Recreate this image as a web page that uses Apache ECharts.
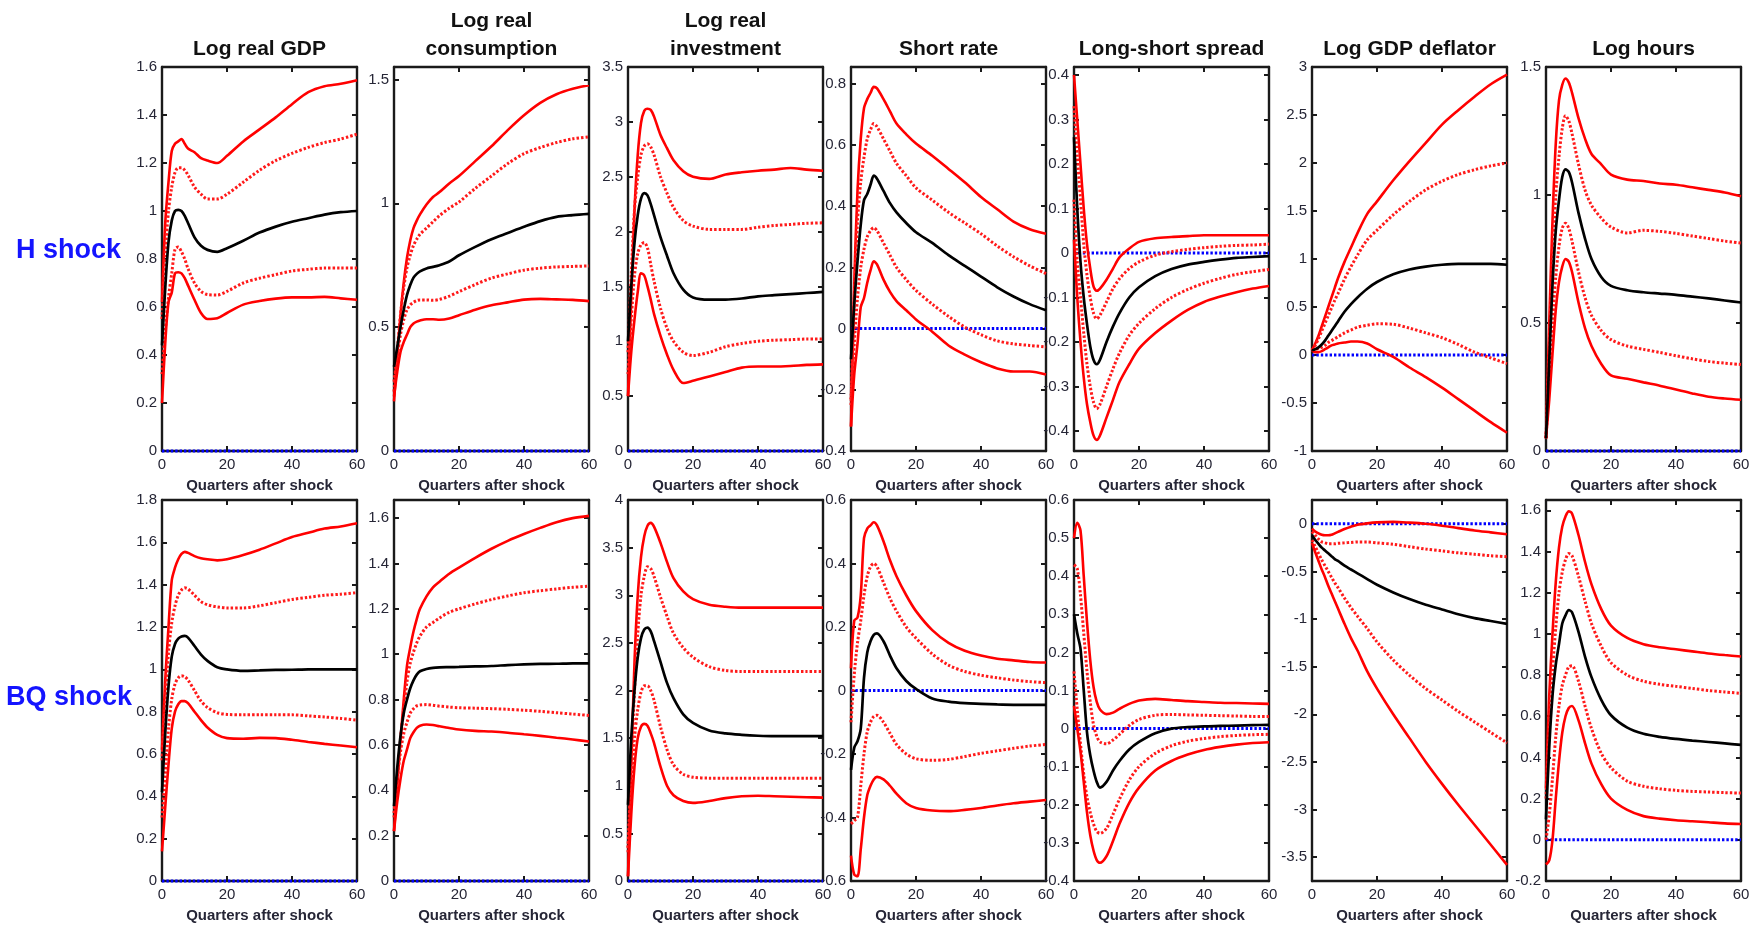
<!DOCTYPE html>
<html>
<head>
<meta charset="utf-8">
<script src="https://cdn.jsdelivr.net/npm/echarts@6/dist/echarts.min.js"></script>
<style>
html,body{margin:0;padding:0;background:#fff;}
#main{width:1753px;height:927px;}
</style>
</head>
<body>
<div id="main"></div>
<script>
// ---------------- DATA ----------------
const Q = [0,1,2,3,4,5,6,7,8,10,12,14,17,20,25,30,35,40,45,50,55,60];
const xTicks = [0,20,40,60];

// H shock: Log real GDP
const H_gdp_hi   = [0.62,0.95,1.12,1.25,1.28,1.29,1.30,1.28,1.26,1.245,1.22,1.21,1.20,1.23,1.29,1.34,1.39,1.445,1.495,1.52,1.53,1.545];
const H_gdp_hiIn = [0.55,0.82,1.0,1.1,1.16,1.18,1.18,1.17,1.15,1.10,1.07,1.05,1.05,1.07,1.12,1.17,1.21,1.24,1.265,1.285,1.30,1.32];
const H_gdp_med  = [0.44,0.68,0.87,0.96,1.0,1.005,1.0,0.98,0.95,0.89,0.855,0.838,0.83,0.845,0.876,0.91,0.935,0.955,0.97,0.985,0.995,1.0];
const H_gdp_loIn = [0.32,0.5,0.64,0.74,0.84,0.85,0.83,0.80,0.76,0.70,0.665,0.652,0.65,0.665,0.70,0.72,0.735,0.75,0.757,0.762,0.762,0.762];
const H_gdp_lo   = [0.2,0.45,0.62,0.66,0.74,0.745,0.74,0.72,0.69,0.63,0.575,0.55,0.553,0.575,0.61,0.625,0.635,0.64,0.64,0.642,0.636,0.63];
// BQ shock: Log real GDP
const B_gdp_hi   = [0.62,0.95,1.2,1.42,1.48,1.52,1.545,1.555,1.55,1.535,1.525,1.52,1.515,1.52,1.54,1.565,1.595,1.625,1.645,1.665,1.675,1.69];
const B_gdp_hiIn = [0.57,0.85,1.08,1.22,1.3,1.35,1.375,1.385,1.38,1.35,1.32,1.305,1.295,1.29,1.29,1.3,1.315,1.33,1.34,1.35,1.355,1.362];
const B_gdp_med  = [0.42,0.7,0.92,1.06,1.12,1.145,1.155,1.158,1.15,1.11,1.07,1.04,1.01,1.0,0.993,0.995,0.997,0.998,1.0,1.0,1.0,1.0];
const B_gdp_loIn = [0.3,0.5,0.72,0.86,0.93,0.96,0.97,0.965,0.95,0.9,0.85,0.82,0.795,0.787,0.785,0.785,0.785,0.785,0.78,0.775,0.768,0.76];
const B_gdp_lo   = [0.14,0.35,0.55,0.72,0.8,0.835,0.85,0.85,0.84,0.8,0.76,0.725,0.69,0.675,0.672,0.676,0.675,0.667,0.657,0.648,0.64,0.632];

// Log real consumption
const H_cons_hi   = [0.2,0.38,0.55,0.68,0.78,0.85,0.9,0.93,0.955,0.995,1.025,1.045,1.08,1.11,1.17,1.23,1.295,1.355,1.405,1.44,1.462,1.476];
const H_cons_hiIn = [0.24,0.4,0.55,0.66,0.74,0.79,0.83,0.855,0.875,0.9,0.925,0.95,0.98,1.005,1.06,1.11,1.16,1.2,1.225,1.245,1.26,1.268];
const H_cons_med  = [0.34,0.42,0.5,0.57,0.63,0.67,0.7,0.715,0.725,0.737,0.743,0.75,0.765,0.79,0.824,0.855,0.88,0.905,0.928,0.945,0.952,0.957];
const H_cons_loIn = [0.28,0.38,0.47,0.53,0.57,0.59,0.6,0.607,0.61,0.61,0.608,0.612,0.625,0.643,0.672,0.698,0.715,0.73,0.738,0.743,0.745,0.747];
const H_cons_lo   = [0.22,0.32,0.4,0.44,0.47,0.5,0.515,0.522,0.527,0.532,0.532,0.53,0.535,0.548,0.57,0.588,0.6,0.611,0.614,0.612,0.61,0.605];
const B_cons_hi   = [0.22,0.42,0.62,0.8,0.95,1.03,1.1,1.155,1.2,1.255,1.295,1.32,1.355,1.382,1.425,1.465,1.5,1.53,1.557,1.582,1.6,1.61];
const B_cons_hiIn = [0.28,0.45,0.62,0.76,0.88,0.96,1.01,1.05,1.08,1.12,1.14,1.16,1.185,1.2,1.222,1.241,1.257,1.271,1.28,1.288,1.295,1.3];
const B_cons_med  = [0.33,0.5,0.64,0.74,0.8,0.85,0.885,0.91,0.925,0.935,0.94,0.942,0.943,0.944,0.946,0.948,0.952,0.955,0.957,0.958,0.96,0.96];
const B_cons_loIn = [0.3,0.45,0.57,0.65,0.7,0.74,0.76,0.772,0.776,0.778,0.775,0.771,0.767,0.764,0.762,0.76,0.757,0.753,0.748,0.742,0.736,0.73];
const B_cons_lo   = [0.22,0.35,0.45,0.53,0.58,0.63,0.656,0.675,0.685,0.69,0.688,0.682,0.675,0.668,0.662,0.659,0.654,0.647,0.64,0.632,0.624,0.615];

// Log real investment
const H_inv_hi   = [0.5,1.4,2.2,2.7,2.99,3.1,3.12,3.11,3.05,2.88,2.76,2.65,2.55,2.5,2.48,2.52,2.54,2.555,2.565,2.58,2.565,2.555];
const H_inv_hiIn = [0.9,1.6,2.2,2.5,2.7,2.78,2.8,2.77,2.7,2.5,2.35,2.22,2.1,2.05,2.02,2.02,2.02,2.04,2.055,2.065,2.075,2.08];
const H_inv_med  = [1.0,1.5,1.9,2.15,2.3,2.35,2.33,2.25,2.15,1.95,1.78,1.62,1.47,1.4,1.38,1.38,1.39,1.41,1.42,1.43,1.44,1.45];
const H_inv_loIn = [0.7,1.2,1.6,1.8,1.88,1.9,1.85,1.7,1.55,1.3,1.12,1.0,0.9,0.87,0.9,0.95,0.98,1.0,1.01,1.015,1.02,1.02];
const H_inv_lo   = [0.5,0.9,1.2,1.45,1.62,1.6,1.5,1.38,1.25,1.05,0.88,0.74,0.62,0.64,0.68,0.72,0.76,0.77,0.77,0.775,0.785,0.79];
const B_inv_hi   = [0.05,1.2,2.3,3.0,3.4,3.62,3.73,3.76,3.72,3.55,3.35,3.18,3.04,2.96,2.9,2.88,2.87,2.87,2.87,2.87,2.87,2.87];
const B_inv_hiIn = [0.3,1.2,2.0,2.6,3.0,3.2,3.3,3.28,3.2,2.98,2.78,2.6,2.45,2.35,2.25,2.21,2.2,2.2,2.2,2.2,2.2,2.2];
const B_inv_med  = [0.8,1.5,2.0,2.35,2.55,2.64,2.66,2.62,2.52,2.3,2.08,1.92,1.75,1.66,1.58,1.55,1.535,1.525,1.52,1.52,1.52,1.52];
const B_inv_loIn = [0.35,1.0,1.5,1.8,1.98,2.05,2.05,2.0,1.9,1.62,1.38,1.22,1.12,1.09,1.08,1.08,1.08,1.08,1.08,1.08,1.08,1.08];
const B_inv_lo   = [0.05,0.7,1.2,1.5,1.62,1.65,1.63,1.55,1.45,1.2,1.0,0.9,0.84,0.82,0.84,0.87,0.89,0.895,0.89,0.885,0.88,0.875];

// Short rate
const H_sr_hi   = [-0.32,0.15,0.45,0.62,0.72,0.75,0.77,0.79,0.785,0.75,0.71,0.67,0.635,0.605,0.565,0.522,0.478,0.43,0.39,0.35,0.325,0.31];
const H_sr_hiIn = [-0.25,0.1,0.35,0.48,0.56,0.62,0.65,0.67,0.66,0.62,0.58,0.54,0.5,0.46,0.42,0.38,0.345,0.31,0.27,0.235,0.205,0.18];
const H_sr_med  = [-0.1,0.08,0.22,0.34,0.42,0.44,0.47,0.5,0.49,0.45,0.41,0.38,0.345,0.315,0.28,0.24,0.205,0.17,0.135,0.105,0.08,0.06];
const H_sr_loIn = [-0.23,-0.05,0.1,0.2,0.26,0.3,0.32,0.33,0.32,0.28,0.24,0.2,0.16,0.125,0.08,0.04,0.005,-0.02,-0.04,-0.05,-0.055,-0.06];
const H_sr_lo   = [-0.32,-0.15,-0.05,0.07,0.1,0.15,0.19,0.22,0.21,0.16,0.12,0.09,0.06,0.03,-0.01,-0.055,-0.085,-0.11,-0.13,-0.14,-0.14,-0.15];
const B_sr_hi   = [0.07,0.22,0.23,0.3,0.48,0.51,0.52,0.53,0.52,0.47,0.41,0.36,0.3,0.25,0.19,0.15,0.125,0.11,0.1,0.095,0.09,0.088];
const B_sr_hiIn = [-0.1,0.05,0.15,0.22,0.3,0.36,0.39,0.4,0.39,0.34,0.29,0.25,0.2,0.165,0.115,0.08,0.06,0.048,0.04,0.033,0.028,0.025];
const B_sr_med  = [-0.25,-0.18,-0.16,-0.12,0.04,0.12,0.155,0.175,0.18,0.155,0.11,0.07,0.03,0.005,-0.025,-0.035,-0.04,-0.042,-0.044,-0.045,-0.045,-0.045];
const B_sr_loIn = [-0.42,-0.41,-0.4,-0.3,-0.2,-0.13,-0.1,-0.082,-0.078,-0.1,-0.135,-0.17,-0.2,-0.215,-0.22,-0.217,-0.208,-0.198,-0.19,-0.182,-0.175,-0.17];
const B_sr_lo   = [-0.52,-0.58,-0.585,-0.5,-0.4,-0.33,-0.3,-0.28,-0.272,-0.28,-0.3,-0.325,-0.355,-0.37,-0.378,-0.38,-0.376,-0.37,-0.362,-0.355,-0.35,-0.345];

// Long-short spread
const H_sp_hi   = [0.4,0.3,0.2,0.1,0.02,-0.035,-0.075,-0.085,-0.08,-0.06,-0.035,-0.01,0.01,0.025,0.033,0.036,0.038,0.04,0.04,0.04,0.04,0.04];
const H_sp_hiIn = [0.33,0.22,0.12,0.02,-0.05,-0.1,-0.135,-0.148,-0.14,-0.11,-0.08,-0.058,-0.035,-0.02,-0.005,0.003,0.008,0.012,0.015,0.017,0.018,0.02];
const H_sp_med  = [0.26,0.1,-0.02,-0.1,-0.16,-0.21,-0.24,-0.25,-0.24,-0.2,-0.165,-0.135,-0.1,-0.077,-0.052,-0.036,-0.026,-0.02,-0.015,-0.011,-0.009,-0.007];
const H_sp_loIn = [0.12,-0.02,-0.1,-0.18,-0.25,-0.3,-0.335,-0.35,-0.34,-0.3,-0.26,-0.225,-0.185,-0.158,-0.125,-0.1,-0.082,-0.068,-0.057,-0.048,-0.042,-0.037];
const H_sp_lo   = [0.03,-0.1,-0.2,-0.28,-0.34,-0.38,-0.41,-0.42,-0.41,-0.37,-0.33,-0.29,-0.25,-0.215,-0.18,-0.152,-0.128,-0.11,-0.098,-0.088,-0.08,-0.074];
const B_sp_hi   = [0.5,0.54,0.52,0.4,0.28,0.18,0.11,0.07,0.05,0.038,0.042,0.052,0.065,0.074,0.078,0.075,0.072,0.07,0.068,0.067,0.066,0.065];
const B_sp_hiIn = [0.43,0.42,0.35,0.25,0.15,0.07,0.01,-0.02,-0.035,-0.04,-0.03,-0.015,0.008,0.024,0.035,0.037,0.036,0.035,0.034,0.033,0.032,0.032];
const B_sp_med  = [0.3,0.25,0.21,0.1,-0.01,-0.07,-0.11,-0.14,-0.155,-0.14,-0.11,-0.085,-0.055,-0.035,-0.012,0.0,0.004,0.006,0.007,0.008,0.009,0.01];
const B_sp_loIn = [0.15,0.05,-0.04,-0.12,-0.18,-0.22,-0.25,-0.27,-0.275,-0.262,-0.225,-0.185,-0.135,-0.1,-0.065,-0.045,-0.033,-0.026,-0.021,-0.018,-0.016,-0.015];
const B_sp_lo   = [0.06,0.0,-0.06,-0.14,-0.22,-0.28,-0.32,-0.345,-0.352,-0.335,-0.295,-0.25,-0.195,-0.155,-0.11,-0.085,-0.068,-0.056,-0.048,-0.042,-0.038,-0.036];

// Log GDP deflator
const H_def_hi   = [0.05,0.12,0.2,0.3,0.4,0.5,0.6,0.7,0.8,0.97,1.12,1.27,1.47,1.6,1.82,2.02,2.21,2.4,2.55,2.69,2.82,2.92];
const H_def_hiIn = [0.05,0.1,0.17,0.25,0.33,0.41,0.49,0.57,0.64,0.79,0.92,1.04,1.2,1.3,1.46,1.6,1.72,1.81,1.88,1.93,1.97,2.0];
const H_def_med  = [0.05,0.06,0.08,0.11,0.15,0.2,0.25,0.3,0.35,0.45,0.53,0.6,0.69,0.76,0.84,0.89,0.92,0.94,0.95,0.95,0.95,0.94];
const H_def_loIn = [0.05,0.06,0.07,0.08,0.1,0.13,0.15,0.17,0.19,0.23,0.26,0.29,0.31,0.325,0.32,0.28,0.23,0.18,0.11,0.03,-0.03,-0.09];
const H_def_lo   = [0.05,0.03,0.03,0.04,0.06,0.08,0.1,0.11,0.12,0.13,0.14,0.14,0.12,0.06,-0.02,-0.13,-0.23,-0.34,-0.46,-0.58,-0.7,-0.81];
const B_def_hi   = [-0.05,-0.08,-0.1,-0.115,-0.12,-0.12,-0.115,-0.1,-0.085,-0.055,-0.03,-0.01,0.005,0.015,0.02,0.012,0.0,-0.02,-0.045,-0.07,-0.09,-0.11];
const B_def_hiIn = [-0.08,-0.12,-0.16,-0.19,-0.2,-0.21,-0.21,-0.21,-0.205,-0.2,-0.195,-0.19,-0.19,-0.2,-0.215,-0.24,-0.265,-0.285,-0.305,-0.32,-0.335,-0.345];
const B_def_med  = [-0.12,-0.17,-0.21,-0.25,-0.28,-0.31,-0.34,-0.37,-0.39,-0.44,-0.48,-0.52,-0.58,-0.64,-0.72,-0.79,-0.85,-0.9,-0.95,-0.99,-1.02,-1.05];
const B_def_loIn = [-0.17,-0.24,-0.31,-0.38,-0.44,-0.5,-0.56,-0.62,-0.67,-0.78,-0.88,-0.97,-1.1,-1.24,-1.43,-1.59,-1.73,-1.85,-1.97,-2.08,-2.19,-2.3];
const B_def_lo   = [-0.2,-0.3,-0.39,-0.48,-0.56,-0.65,-0.73,-0.81,-0.89,-1.05,-1.2,-1.33,-1.55,-1.73,-2.0,-2.25,-2.5,-2.73,-2.95,-3.16,-3.37,-3.58];

// Log hours
const H_hrs_hi   = [0.05,0.5,0.9,1.2,1.37,1.43,1.455,1.44,1.4,1.3,1.22,1.16,1.12,1.08,1.06,1.055,1.045,1.04,1.03,1.02,1.01,0.995];
const H_hrs_hiIn = [0.05,0.4,0.75,1.0,1.15,1.26,1.31,1.29,1.24,1.12,1.02,0.96,0.91,0.875,0.852,0.862,0.858,0.85,0.84,0.83,0.82,0.812];
const H_hrs_med  = [0.05,0.35,0.65,0.86,0.98,1.07,1.1,1.09,1.05,0.93,0.83,0.75,0.68,0.645,0.628,0.62,0.615,0.61,0.603,0.596,0.588,0.58];
const H_hrs_loIn = [0.05,0.28,0.5,0.68,0.8,0.87,0.89,0.87,0.82,0.7,0.6,0.53,0.47,0.435,0.41,0.397,0.385,0.372,0.36,0.35,0.343,0.338];
const H_hrs_lo   = [0.05,0.2,0.38,0.55,0.66,0.72,0.75,0.74,0.7,0.58,0.48,0.41,0.34,0.295,0.282,0.268,0.255,0.24,0.225,0.212,0.205,0.2];
const B_hrs_hi   = [0.25,0.7,1.0,1.25,1.42,1.52,1.57,1.595,1.585,1.48,1.35,1.24,1.12,1.04,0.98,0.95,0.935,0.925,0.915,0.905,0.897,0.89];
const B_hrs_hiIn = [0.2,0.55,0.82,1.03,1.2,1.3,1.36,1.39,1.38,1.28,1.16,1.05,0.94,0.86,0.8,0.77,0.755,0.745,0.735,0.725,0.718,0.711];
const B_hrs_med  = [0.1,0.45,0.7,0.85,0.95,1.05,1.09,1.115,1.105,1.01,0.89,0.79,0.68,0.605,0.545,0.515,0.5,0.49,0.482,0.475,0.468,0.461];
const B_hrs_loIn = [0.0,0.12,0.3,0.5,0.65,0.75,0.8,0.84,0.845,0.77,0.65,0.54,0.42,0.35,0.285,0.26,0.248,0.24,0.235,0.232,0.229,0.227];
const B_hrs_lo   = [-0.12,-0.1,0.0,0.2,0.38,0.52,0.6,0.64,0.65,0.58,0.47,0.37,0.27,0.2,0.145,0.115,0.103,0.095,0.09,0.085,0.08,0.077];

// zero reference line
const zeroLine = [[0,0],[60,0]];

// Tick labels (y) per panel
const T_H_gdp  = [0,0.2,0.4,0.6,0.8,1,1.2,1.4,1.6];
const T_H_cons = [0,0.5,1,1.5];
const T_H_inv  = [0,0.5,1,1.5,2,2.5,3,3.5];
const T_H_sr   = [-0.4,-0.2,0,0.2,0.4,0.6,0.8];
const T_H_sp   = [-0.4,-0.3,-0.2,-0.1,0,0.1,0.2,0.3,0.4];
const T_H_def  = [-1,-0.5,0,0.5,1,1.5,2,2.5,3];
const T_H_hrs  = [0,0.5,1,1.5];
const T_B_gdp  = [0,0.2,0.4,0.6,0.8,1,1.2,1.4,1.6,1.8];
const T_B_cons = [0,0.2,0.4,0.6,0.8,1,1.2,1.4,1.6];
const T_B_inv  = [0,0.5,1,1.5,2,2.5,3,3.5,4];
const T_B_sr   = [-0.6,-0.4,-0.2,0,0.2,0.4,0.6];
const T_B_sp   = [-0.4,-0.3,-0.2,-0.1,0,0.1,0.2,0.3,0.4,0.5,0.6];
const T_B_def  = [-3.5,-3,-2.5,-2,-1.5,-1,-0.5,0];
const T_B_hrs  = [-0.2,0,0.2,0.4,0.6,0.8,1,1.2,1.4,1.6];

const titles = [["Log real GDP"],["Log real","consumption"],["Log real","investment"],["Short rate"],["Long-short spread"],["Log GDP deflator"],["Log hours"]];
const rowLabels = ["H shock","BQ shock"];

// ---------------- LAYOUT ----------------
const lefts = [162,394,628,851,1074,1312,1546];
const PW = 195;
const rowsGeo = [{top:67,h:384},{top:500,h:381}];

const panels = [
  {r:0,c:0,min:0,max:1.6,ticks:T_H_gdp,lines:[H_gdp_hi,H_gdp_hiIn,H_gdp_med,H_gdp_loIn,H_gdp_lo]},
  {r:0,c:1,min:0,max:1.55,ticks:T_H_cons,lines:[H_cons_hi,H_cons_hiIn,H_cons_med,H_cons_loIn,H_cons_lo]},
  {r:0,c:2,min:0,max:3.5,ticks:T_H_inv,lines:[H_inv_hi,H_inv_hiIn,H_inv_med,H_inv_loIn,H_inv_lo]},
  {r:0,c:3,min:-0.4,max:0.855,ticks:T_H_sr,lines:[H_sr_hi,H_sr_hiIn,H_sr_med,H_sr_loIn,H_sr_lo]},
  {r:0,c:4,min:-0.445,max:0.418,ticks:T_H_sp,lines:[H_sp_hi,H_sp_hiIn,H_sp_med,H_sp_loIn,H_sp_lo]},
  {r:0,c:5,min:-1,max:3,ticks:T_H_def,lines:[H_def_hi,H_def_hiIn,H_def_med,H_def_loIn,H_def_lo]},
  {r:0,c:6,min:0,max:1.5,ticks:T_H_hrs,lines:[H_hrs_hi,H_hrs_hiIn,H_hrs_med,H_hrs_loIn,H_hrs_lo]},
  {r:1,c:0,min:0,max:1.8,ticks:T_B_gdp,lines:[B_gdp_hi,B_gdp_hiIn,B_gdp_med,B_gdp_loIn,B_gdp_lo]},
  {r:1,c:1,min:0,max:1.68,ticks:T_B_cons,lines:[B_cons_hi,B_cons_hiIn,B_cons_med,B_cons_loIn,B_cons_lo]},
  {r:1,c:2,min:0,max:4,ticks:T_B_inv,lines:[B_inv_hi,B_inv_hiIn,B_inv_med,B_inv_loIn,B_inv_lo]},
  {r:1,c:3,min:-0.6,max:0.6,ticks:T_B_sr,lines:[B_sr_hi,B_sr_hiIn,B_sr_med,B_sr_loIn,B_sr_lo]},
  {r:1,c:4,min:-0.4,max:0.6,ticks:T_B_sp,lines:[B_sp_hi,B_sp_hiIn,B_sp_med,B_sp_loIn,B_sp_lo]},
  {r:1,c:5,min:-3.75,max:0.25,ticks:T_B_def,lines:[B_def_hi,B_def_hiIn,B_def_med,B_def_loIn,B_def_lo]},
  {r:1,c:6,min:-0.2,max:1.65,ticks:T_B_hrs,lines:[B_hrs_hi,B_hrs_hiIn,B_hrs_med,B_hrs_loIn,B_hrs_lo]}
];

const FONT = "'Liberation Sans', Arial, Helvetica, sans-serif";
const AX = '#1a1a1a';
const LBL = '#262636';
const lineStyles = [
  {color:'#ff0000', width:2.6, type:'solid'},
  {color:'#ff1a1a', width:3, type:[2.4,2]},
  {color:'#000000', width:2.7, type:'solid'},
  {color:'#ff1a1a', width:3, type:[2.4,2]},
  {color:'#ff0000', width:2.6, type:'solid'}
];
const fmt = v => String(Math.round(v*100)/100);

const grid = [], xAxis = [], yAxis = [], series = [];
panels.forEach((p, i) => {
  const g = rowsGeo[p.r];
  grid.push({left: lefts[p.c], top: g.top, width: PW, height: g.h, containLabel: false, show: false});
  const baseLine = {show:true, onZero:false, lineStyle:{color:AX, width:2.4}};
  const tickX = {show:true, inside:true, length:5, customValues:xTicks, lineStyle:{color:AX, width:2}};
  const tickY = {show:true, inside:true, length:5, customValues:p.ticks, lineStyle:{color:AX, width:2}};
  xAxis.push({
    gridIndex:i, type:'value', min:0, max:60, position:'bottom',
    axisLine:baseLine, axisTick:tickX,
    axisLabel:{customValues:xTicks, margin:6, fontSize:15, color:LBL, fontFamily:FONT, formatter:fmt},
    splitLine:{show:false},
    name:'Quarters after shock', nameLocation:'middle', nameGap:27,
    nameTextStyle:{fontSize:15, fontWeight:'bold', color:LBL, fontFamily:FONT}
  });
  xAxis.push({
    gridIndex:i, type:'value', min:0, max:60, position:'top',
    axisLine:baseLine, axisTick:tickX, axisLabel:{show:false}, splitLine:{show:false}
  });
  yAxis.push({
    gridIndex:i, type:'value', min:p.min, max:p.max, position:'left',
    axisLine:baseLine, axisTick:tickY,
    axisLabel:{customValues:p.ticks, margin:5, fontSize:15, color:LBL, fontFamily:FONT, formatter:fmt},
    splitLine:{show:false}
  });
  yAxis.push({
    gridIndex:i, type:'value', min:p.min, max:p.max, position:'right',
    axisLine:baseLine, axisTick:tickY, axisLabel:{show:false}, splitLine:{show:false}
  });
  series.push({
    type:'line', xAxisIndex:2*i, yAxisIndex:2*i, data:zeroLine, symbol:'none',
    lineStyle:{color:'#0000ff', width:3, type:[2.4,2]}, clip:false, silent:true, z:3
  });
  p.lines.forEach((arr, k) => {
    series.push({
      type:'line', xAxisIndex:2*i, yAxisIndex:2*i,
      data: Q.map((q, j) => [q, arr[j]]),
      symbol:'none', smooth:0.3, lineStyle:lineStyles[k], clip:false, silent:true, z: k===2 ? 5 : 4
    });
  });
});

const graphic = [];
titles.forEach((t, c) => {
  const cx = lefts[c] + PW/2;
  if (t.length === 1) {
    graphic.push({type:'text', x:cx, y:49, style:{text:t[0], font:"bold 21px "+FONT, fill:'#111', textAlign:'center', textVerticalAlign:'middle'}});
  } else {
    graphic.push({type:'text', x:cx, y:21, style:{text:t[0], font:"bold 21px "+FONT, fill:'#111', textAlign:'center', textVerticalAlign:'middle'}});
    graphic.push({type:'text', x:cx, y:49, style:{text:t[1], font:"bold 21px "+FONT, fill:'#111', textAlign:'center', textVerticalAlign:'middle'}});
  }
});
graphic.push({type:'text', x:16, y:251, style:{text:rowLabels[0], font:"bold 27px "+FONT, fill:'#1414ff', textAlign:'left', textVerticalAlign:'middle'}});
graphic.push({type:'text', x:6, y:698, style:{text:rowLabels[1], font:"bold 27px "+FONT, fill:'#1414ff', textAlign:'left', textVerticalAlign:'middle'}});

const chart = echarts.init(document.getElementById('main'));
chart.setOption({
  animation:false,
  backgroundColor:'#ffffff',
  grid, xAxis, yAxis, series, graphic
});
</script>
</body>
</html>
